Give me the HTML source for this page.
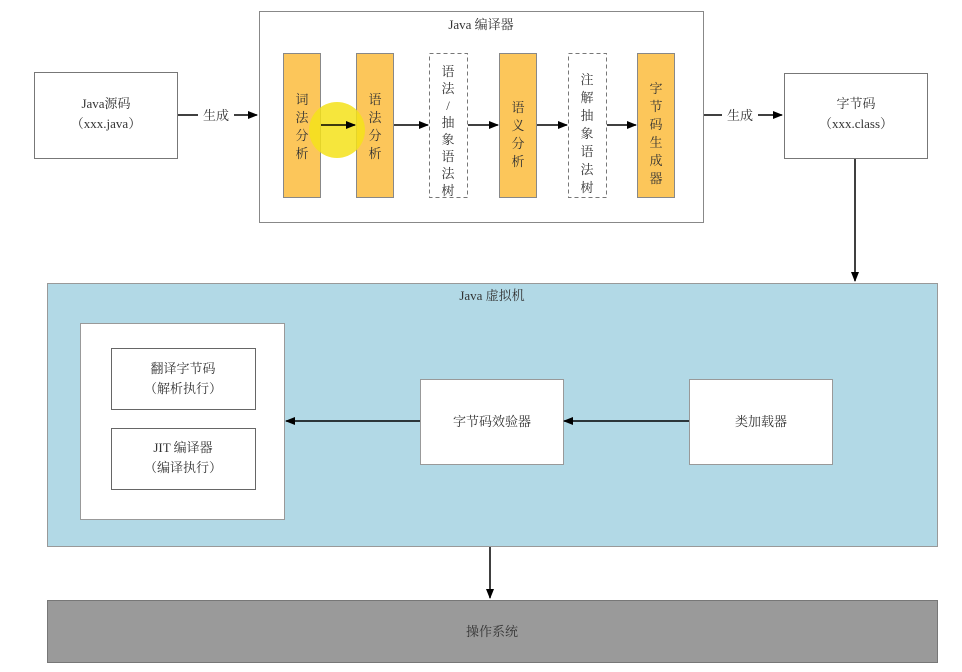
<!DOCTYPE html>
<html><head><meta charset="utf-8"><style>
body{margin:0;background:#fff;width:962px;height:667px;overflow:hidden}
text{font-family:"Liberation Serif","Noto Serif CJK SC","Noto Sans CJK SC",serif;fill:#333;font-size:13px}
</style></head><body>
<svg width="962" height="667" viewBox="0 0 962 667" xmlns="http://www.w3.org/2000/svg">
<defs><marker id="a" markerWidth="10" markerHeight="8" refX="9" refY="4" orient="auto" markerUnits="userSpaceOnUse"><path d="M0,0 L10,4 L0,8 Z" fill="#000"/></marker></defs>
<rect width="962" height="667" fill="#fff"/>
<!-- source -->
<rect x="34.5" y="72.5" width="143" height="86" fill="#fff" stroke="#777"/>
<text x="106" y="108" text-anchor="middle">Java源码</text>
<text x="106" y="128" text-anchor="middle">（xxx.java）</text>
<!-- compiler -->
<rect x="259.5" y="11.5" width="444" height="211" fill="#fff" stroke="#888"/>
<text x="481" y="29" text-anchor="middle">Java 编译器</text>
<g stroke="#888" fill="#fcc65a">
<rect x="283.5" y="53.5" width="37" height="144"/>
<rect x="356.5" y="53.5" width="37" height="144"/>
<rect x="499.5" y="53.5" width="37" height="144"/>
<rect x="637.5" y="53.5" width="37" height="144"/>
</g>
<circle cx="337" cy="130" r="28" fill="#f5e21a" opacity="0.85"/>
<g stroke="#777" fill="#fff" stroke-dasharray="4,3">
<rect x="429.5" y="53.5" width="38" height="144"/>
<rect x="568.5" y="53.5" width="38" height="144"/>
</g>
<g text-anchor="middle" font-size="14">
<text x="302" y="104">词</text><text x="302" y="122">法</text><text x="302" y="140">分</text><text x="302" y="158">析</text>
<text x="375" y="104">语</text><text x="375" y="122">法</text><text x="375" y="140">分</text><text x="375" y="158">析</text>
<text x="448" y="76">语</text><text x="448" y="93">法</text><text x="448" y="110">/</text><text x="448" y="127">抽</text><text x="448" y="144">象</text><text x="448" y="161">语</text><text x="448" y="178">法</text><text x="448" y="195">树</text>
<text x="518" y="112">语</text><text x="518" y="130">义</text><text x="518" y="148">分</text><text x="518" y="166">析</text>
<text x="587" y="84">注</text><text x="587" y="102">解</text><text x="587" y="120">抽</text><text x="587" y="138">象</text><text x="587" y="156">语</text><text x="587" y="174">法</text><text x="587" y="192">树</text>
<text x="656" y="93">字</text><text x="656" y="111">节</text><text x="656" y="129">码</text><text x="656" y="147">生</text><text x="656" y="165">成</text><text x="656" y="183">器</text>
</g>
<rect x="784.5" y="73.5" width="143" height="85" fill="#fff" stroke="#777"/>
<text x="856" y="108" text-anchor="middle">字节码</text>
<text x="856" y="128" text-anchor="middle">（xxx.class）</text>
<!-- JVM -->
<rect x="47.5" y="283.5" width="890" height="263" fill="#b2d9e6" stroke="#999"/>
<text x="492" y="300" text-anchor="middle">Java 虚拟机</text>
<rect x="80.5" y="323.5" width="204" height="196" fill="#fff" stroke="#999"/>
<rect x="111.5" y="348.5" width="144" height="61" fill="#fff" stroke="#666"/>
<text x="183" y="373" text-anchor="middle">翻译字节码</text>
<text x="183" y="393" text-anchor="middle">（解析执行）</text>
<rect x="111.5" y="428.5" width="144" height="61" fill="#fff" stroke="#666"/>
<text x="183" y="452" text-anchor="middle">JIT 编译器</text>
<text x="183" y="472" text-anchor="middle">（编译执行）</text>
<rect x="420.5" y="379.5" width="143" height="85" fill="#fff" stroke="#999"/>
<text x="492" y="426" text-anchor="middle">字节码效验器</text>
<rect x="689.5" y="379.5" width="143" height="85" fill="#fff" stroke="#999"/>
<text x="761" y="426" text-anchor="middle">类加载器</text>
<rect x="47.5" y="600.5" width="890" height="62" fill="#9a9a9a" stroke="#777"/>
<text x="492" y="636" text-anchor="middle">操作系统</text>
<!-- arrows -->
<g stroke="#000" stroke-width="1.5" marker-end="url(#a)">
<line x1="178" y1="115" x2="257" y2="115"/>
<line x1="321" y1="125" x2="355" y2="125"/>
<line x1="394" y1="125" x2="428" y2="125"/>
<line x1="468" y1="125" x2="498" y2="125"/>
<line x1="537" y1="125" x2="567" y2="125"/>
<line x1="607" y1="125" x2="636" y2="125"/>
<line x1="704" y1="115" x2="782" y2="115"/>
<line x1="855" y1="159" x2="855" y2="281"/>
<line x1="689" y1="421" x2="564" y2="421"/>
<line x1="420" y1="421" x2="286" y2="421"/>
<line x1="490" y1="547" x2="490" y2="598"/>
</g>
<rect x="198" y="106" width="36" height="18" fill="#fff"/>
<text x="216" y="120" text-anchor="middle">生成</text>
<rect x="722" y="106" width="36" height="18" fill="#fff"/>
<text x="740" y="120" text-anchor="middle">生成</text>
</svg>
</body></html>
